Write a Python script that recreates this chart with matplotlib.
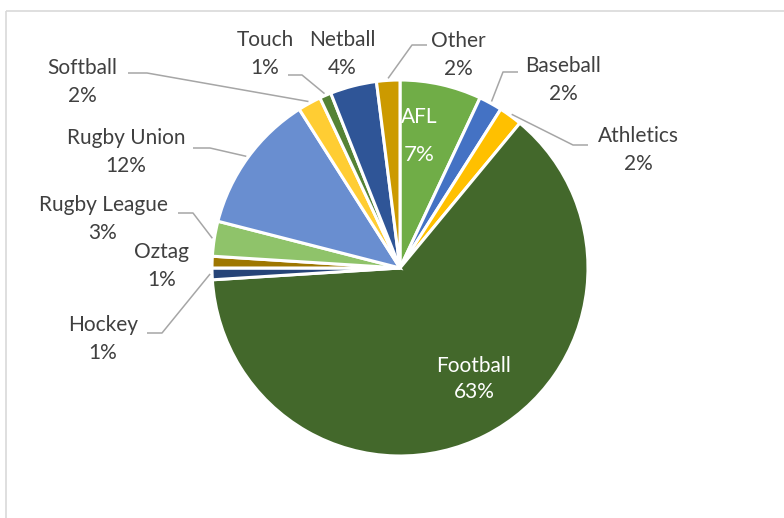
import matplotlib.pyplot as plt
import numpy as np
from matplotlib.patches import Rectangle

# Sport participation shares (%), clockwise from 12 o'clock
sports = ['AFL', 'Baseball', 'Athletics', 'Football', 'Hockey', 'Oztag',
          'Rugby League', 'Rugby Union', 'Softball', 'Touch', 'Netball', 'Other']
shares = [7, 2, 2, 63, 1, 1, 3, 12, 2, 1, 4, 2]
colors = ['#70AD47', '#4472C4', '#FFC000', '#43682B', '#264478', '#9E7700',
          '#8FC36A', '#698ED0', '#FFCD33', '#548235', '#2F5597', '#CC9A00']

# label centre (px) and leader-line elbow points (px); None = no leader
label_pos = {
    'AFL': (419, 136), 'Baseball': (563, 80), 'Athletics': (638, 150),
    'Football': (474, 379), 'Hockey': (103, 339), 'Oztag': (162, 266),
    'Rugby League': (103, 219), 'Rugby Union': (126, 152), 'Softball': (82, 82),
    'Touch': (265, 54), 'Netball': (342, 54), 'Other': (458, 55),
}
leaders = {
    'Other': [(427, 45), (412, 45)],
    'Baseball': [(518, 72), (503, 72)],
    'Athletics': [(588, 145), (573, 145)],
    'Touch': [(288, 75), (302, 75)],
    'Softball': [(128, 73), (147, 73)],
    'Rugby Union': [(193, 148), (210, 148)],
    'Rugby League': [(178, 213), (193, 213)],
    'Hockey': [(147, 333), (162, 333)],
}
inside = ['AFL', 'Football']

W, H = 784, 518
cx, cy, R = 400, 268, 188
text_col = '#404040'
font = ['Lato', 'DejaVu Sans']
fs = 15

fig = plt.figure(figsize=(W / 100, H / 100), dpi=100)
ax = fig.add_axes([0, 0, 1, 1])
ax.set_xlim(0, W)
ax.set_ylim(H, 0)
ax.set_aspect('equal')
ax.axis('off')

# chart frame (runs off the right and bottom edge)
ax.add_patch(Rectangle((6.5, 10.5), W, H, fill=False, edgecolor='#D9D9D9', linewidth=1.2))

# y axis is inverted, so counterclock=True draws clockwise on screen
wedges, _ = ax.pie(shares, colors=colors, startangle=-90, counterclock=True,
                   center=(cx, cy), radius=R, frame=True,
                   wedgeprops=dict(edgecolor='white', linewidth=2.2))
ax.set_xlim(0, W)
ax.set_ylim(H, 0)
ax.axis('off')

cum = np.cumsum([0] + shares) / sum(shares)
for i, name in enumerate(sports):
    mid = 2 * np.pi * (cum[i] + cum[i + 1]) / 2
    edge = (cx + (R + 2) * np.sin(mid), cy - (R + 2) * np.cos(mid))
    lx, ly = label_pos[name]
    if name in inside:
        gap = 19 if name == 'AFL' else 13
        ax.text(lx, ly - gap, name, color='white', fontsize=fs, family=font,
                ha='center', va='center')
        ax.text(lx, ly + gap, f'{shares[i]}%', color='white', fontsize=fs + 1 if name == 'AFL' else fs,
                family=font, ha='center', va='center')
        continue
    ax.text(lx, ly - 14, name, color=text_col, fontsize=fs, family=font,
            ha='center', va='center')
    ax.text(lx, ly + 14, f'{shares[i]}%', color=text_col, fontsize=fs, family=font,
            ha='center', va='center')
    if name in leaders:
        pts = leaders[name] + [edge]
        xs, ys = zip(*pts)
        ax.plot(xs, ys, color='#A6A6A6', linewidth=1.1, solid_capstyle='butt')

fig.savefig('out.png', dpi=100)
